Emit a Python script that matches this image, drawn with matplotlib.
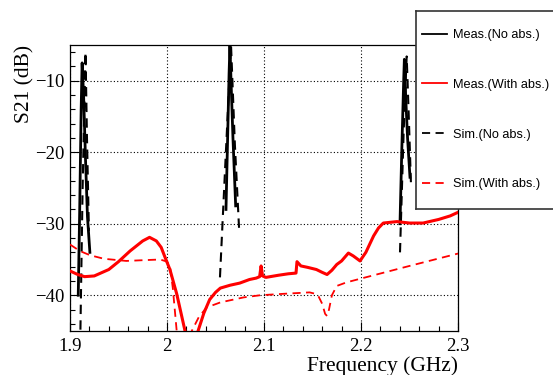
import matplotlib.pyplot as plt
import numpy as np
from matplotlib.ticker import MultipleLocator

# Meas.(No abs.) - measured only around the three resonances (nan = gap)
f_meas_noabs = [1.9085, 1.9100, 1.9115, 1.9125, 1.9140, 1.9160, 1.9180, 1.9205, np.nan,
                2.0608, 2.0625, 2.0640, 2.0649, 2.0660, 2.0680, 2.0708, np.nan,
                2.2402, 2.2420, 2.2440, 2.2447, 2.2460, 2.2480, 2.2505]
s_meas_noabs = [-40.0, -28.0, -14.0, -7.5, -12.0, -21.0, -29.0, -34.0, np.nan,
                -28.0, -18.0, -9.0, -5.0, -10.0, -18.0, -27.5, np.nan,
                -30.0, -20.0, -10.0, -7.0, -12.0, -18.0, -23.5]

# Sim.(No abs.)
f_sim_noabs = [1.9105, 1.9130, 1.9160, 1.9175, 1.9195, np.nan,
               2.0546, 2.0600, 2.0660, 2.0700, 2.0745, np.nan,
               2.2402, 2.2440, 2.2471, 2.2495, 2.2515]
s_sim_noabs = [-47.0, -25.0, -6.0, -18.0, -31.0, np.nan,
               -37.5, -22.0, -5.0, -19.0, -31.2, np.nan,
               -34.0, -17.0, -6.6, -16.0, -24.4]

# Meas.(With abs.)
f_meas_abs = [1.900, 1.908, 1.915, 1.925, 1.940, 1.950, 1.962, 1.975, 1.982, 1.989,
              1.994, 1.998, 2.003, 2.010, 2.0186, 2.022, 2.028, 2.032, 2.038, 2.044,
              2.050, 2.055, 2.065, 2.075, 2.085, 2.092, 2.0955, 2.097, 2.0985, 2.102,
              2.115, 2.125, 2.133, 2.134, 2.138, 2.145, 2.154, 2.160, 2.165, 2.170,
              2.175, 2.180, 2.187, 2.192, 2.199, 2.205, 2.213, 2.218, 2.223, 2.237,
              2.250, 2.264, 2.280, 2.292, 2.300]
s_meas_abs = [-36.6, -37.1, -37.4, -37.3, -36.4, -35.3, -33.8, -32.4, -31.9, -32.4,
              -33.3, -34.7, -36.4, -39.8, -45.0, -48.0, -48.0, -45.0, -42.5, -40.6,
              -39.6, -39.0, -38.6, -38.3, -37.8, -37.6, -37.4, -35.9, -37.3, -37.5,
              -37.2, -37.0, -36.9, -35.3, -35.9, -36.1, -36.4, -36.8, -37.1, -36.5,
              -35.7, -35.2, -34.1, -34.5, -35.2, -34.0, -31.7, -30.6, -29.9, -29.7,
              -29.9, -29.9, -29.4, -28.9, -28.4]

# Sim.(With abs.)
f_sim_abs = [1.900, 1.910, 1.9206, 1.935, 1.958, 1.975, 1.993, 2.000, 2.003, 2.006,
             2.010, 2.015, 2.022, 2.0255, 2.033, 2.041, 2.055, 2.079, 2.096, 2.120,
             2.147, 2.153, 2.156, 2.160, 2.163, 2.165, 2.167, 2.170, 2.175, 2.185,
             2.199, 2.250, 2.302]
s_sim_abs = [-32.9, -33.8, -34.4, -34.9, -35.2, -35.1, -35.0, -35.3, -35.9, -39.0,
             -45.0, -50.0, -50.0, -45.0, -43.0, -41.7, -41.0, -40.3, -40.0, -39.8,
             -39.6, -39.8, -40.1, -41.2, -42.6, -42.9, -42.0, -40.0, -38.7, -38.2,
             -37.7, -35.9, -34.1]

labels = ['Meas.(No abs.)', 'Meas.(With abs.)', 'Sim.(No abs.)', 'Sim.(With abs.)']

plt.rcParams['font.family'] = 'Liberation Serif'

fig = plt.figure(figsize=(5.53, 3.75), dpi=100)
ax = fig.add_axes([70/553, 44/375, 388/553, 286/375])

dash = (0, (4.5, 3))
l1, = ax.plot(f_meas_noabs, s_meas_noabs, color='black', lw=2.0, zorder=3)
l3, = ax.plot(f_sim_noabs, s_sim_noabs, color='black', lw=1.5, ls=dash, zorder=3)
l2, = ax.plot(f_meas_abs, s_meas_abs, color='red', lw=2.2, zorder=4)
l4, = ax.plot(f_sim_abs, s_sim_abs, color='red', lw=1.3, ls=dash, zorder=4)

ax.set_xlim(1.9, 2.3)
ax.set_ylim(-45, -5)
ax.xaxis.set_major_locator(MultipleLocator(0.1))
ax.xaxis.set_minor_locator(MultipleLocator(0.02))
ax.yaxis.set_major_locator(MultipleLocator(10))
ax.yaxis.set_minor_locator(MultipleLocator(2))
ax.set_xticks([1.9, 2.0, 2.1, 2.2, 2.3], ['1.9', '2', '2.1', '2.2', '2.3'])
ax.tick_params(which='both', direction='in', top=False, right=False, labelsize=13.5)
ax.tick_params(which='major', length=6.5, width=0.8)
ax.tick_params(which='minor', length=3.3, width=0.8)
ax.tick_params(axis='x', pad=5)
ax.tick_params(axis='y', pad=4)
ax.grid(True, which='major', color='black', ls=(0, (1, 2)), lw=0.8)
for s in ax.spines.values():
    s.set_linewidth(0.9)

fig.text(25/553, 1 - 45/375, 'S21 (dB)', rotation=90, ha='center', va='top', fontsize=15.5)
fig.text(458/553, 3.5/375, 'Frequency (GHz)', ha='right', va='baseline', fontsize=15.5)

# legend box (runs off the right edge, like the original)
lax = fig.add_axes([416/553, 1 - 209/375, 160/553, 198.5/375], zorder=5)
lax.set_xticks([])
lax.set_yticks([])
for s in lax.spines.values():
    s.set_linewidth(1.2)
    s.set_edgecolor('#333333')
leg = lax.legend([l1, l2, l3, l4], labels, loc='center left', bbox_to_anchor=(0, 0.5),
                 prop={'family': 'Liberation Sans', 'size': 9.2}, frameon=False,
                 borderpad=0, borderaxespad=0.45, labelspacing=2.95,
                 handlelength=2.0, handletextpad=0.48)
for h in leg.legend_handles:
    h.set_linewidth(1.3)

fig.savefig('out.png', dpi=100)
